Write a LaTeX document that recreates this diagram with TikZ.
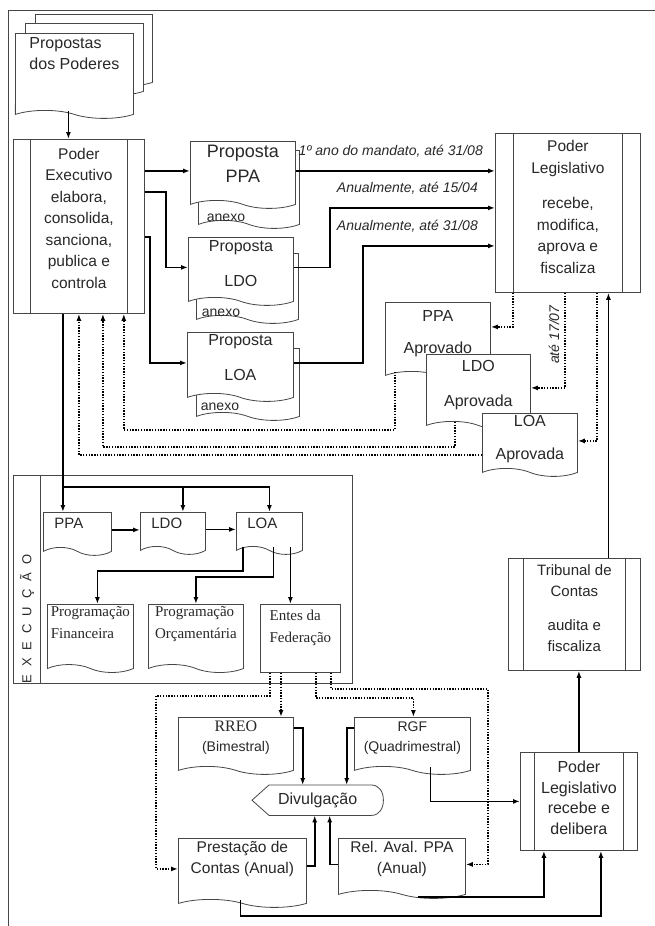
\documentclass[tikz,border=0pt]{standalone}
\usepackage{fontspec}
\setmainfont{Liberation Sans}
\newfontfamily\serifdoc{Liberation Serif}
\usetikzlibrary{arrows.meta,positioning,shapes.symbols,calc}
\definecolor{LineGray}{RGB}{70,70,70}
\definecolor{TextGray}{RGB}{40,40,40}
\tikzset{
  doc/.style={tape,tape bend top=none,tape bend bottom=out and in,
    tape bend height=8pt,draw=LineGray,fill=white,line width=0.8pt,
    anchor=north west,inner sep=2pt,align=center,text=TextGray},
  proc/.style={draw=LineGray,fill=white,line width=0.8pt,anchor=north west,
    align=center,text=TextGray,
    path picture={
      \draw[LineGray,line width=0.8pt]
        ([xshift=#1]path picture bounding box.north west) --
        ([xshift=#1]path picture bounding box.south west)
        ([xshift=-#1]path picture bounding box.north east) --
        ([xshift=-#1]path picture bounding box.south east);}},
  proc/.default=16pt,
  plain/.style={draw=LineGray,fill=white,line width=0.8pt,anchor=north west,
    text=TextGray},
  arrow/.style={-{Latex[length=7pt,width=5pt]},line width=1.7pt},
  dotarrow/.style={-{Latex[length=7pt,width=5pt]},line width=1.4pt,
    dash pattern=on 1.4pt off 1.4pt},
  note/.style={font=\itshape\fontsize{14}{16}\selectfont,text=TextGray},
  anexo/.style={font=\fontsize{14}{16}\selectfont,text=TextGray,inner sep=0pt}
}
\begin{document}
\begin{tikzpicture}[x=1pt,y=-1pt]
  \useasboundingbox (0,0) rectangle (655,926);
  \draw[LineGray,line width=0.8pt] (8,926) -- (8,10) -- (655,10);

  % propostas dos poderes
  \node[doc,minimum width=117pt,minimum height=72pt] (props3) at (35,14) {};
  \node[doc,minimum width=118pt,minimum height=72pt] (props2) at (25,23) {};
  \node[doc,minimum width=118pt,minimum height=85pt,text depth=36pt,align=left,
    font=\fontsize{16}{21}\selectfont] (props) at (15,33) {Propostas\\dos Poderes};

  \node[proc=17pt,minimum width=131pt,minimum height=174pt,text depth=17pt,
    font=\fontsize{15.5}{21.5}\selectfont] (exec) at (13,139)
    {Poder\\Executivo\\elabora,\\consolida,\\sanciona,\\publica e\\controla};

  % propostas com anexo
  \node[doc,minimum width=101pt,minimum height=78pt] (ppaAnx) at (198,150) {};
  \node[doc,minimum width=105pt,minimum height=67pt,text depth=14pt,
    font=\fontsize{18}{25}\selectfont] (ppa) at (190,141) {Proposta\\PPA};
  \node[anexo] (ppaAnxTxt) at (226,218) {anexo};

  \node[doc,minimum width=102pt,minimum height=70pt] (ldoAnx) at (196,253) {};
  \node[doc,minimum width=105pt,minimum height=68pt,text depth=7pt,
    font=\fontsize{16}{35}\selectfont] (ldo) at (188,237) {Proposta\\LDO};
  \node[anexo] (ldoAnxTxt) at (221,313) {anexo};

  \node[doc,minimum width=103pt,minimum height=72pt] (loaAnx) at (196,348) {};
  \node[doc,minimum width=106pt,minimum height=68pt,text depth=11pt,
    font=\fontsize{16}{35}\selectfont] (loa) at (187,332) {Proposta\\LOA};
  \node[anexo] (loaAnxTxt) at (220,407) {anexo};

  \node[proc=18pt,minimum width=145pt,minimum height=159pt,text depth=12pt,
    font=\fontsize{15.5}{21.5}\selectfont] (leg) at (495,133)
    {Poder\\Legislativo\\[14pt]recebe,\\modifica,\\aprova e\\fiscaliza};

  % aprovados
  \node[doc,minimum width=105pt,minimum height=77pt,text depth=9pt,
    font=\fontsize{16}{32}\selectfont] (ppaAp) at (385,302) {PPA\\Aprovado};
  \node[doc,minimum width=104pt,minimum height=75pt,text depth=8pt,
    font=\fontsize{16}{35}\selectfont] (ldoAp) at (426,354) {LDO\\Aprovada};
  \node[doc,minimum width=95pt,minimum height=63pt,text depth=6pt,
    font=\fontsize{16}{33}\selectfont] (loaAp) at (482,413) {LOA\\Aprovada};

  % execucao
  \node[plain,minimum width=339pt,minimum height=208pt,
    path picture={\draw[LineGray,line width=0.8pt]
      ([xshift=27pt]path picture bounding box.north west) --
      ([xshift=27pt]path picture bounding box.south west);}] (execucao) at (13,475) {};
  \node[rotate=90,text=TextGray,
    font=\fontsize{13}{15}\selectfont\addfontfeature{LetterSpace=62}] (execLabel)
    at (27,619) {EXECUÇÃO};

  \node[doc,minimum width=68pt,minimum height=43pt,text depth=13pt,align=left,
    text width=46pt,font=\fontsize{15}{18}\selectfont] (ePPA) at (43,512) {PPA};
  \node[doc,minimum width=65pt,minimum height=42pt,text depth=13pt,align=left,
    text width=43pt,font=\fontsize{15}{18}\selectfont] (eLDO) at (140,512) {LDO};
  \node[doc,minimum width=66pt,minimum height=42pt,text depth=13pt,align=left,
    text width=44pt,font=\fontsize{15}{18}\selectfont] (eLOA) at (236,512) {LOA};

  \node[doc,minimum width=86pt,minimum height=68pt,text depth=24pt,align=left,
    font=\serifdoc\fontsize{15}{22}\selectfont] (progFin) at (47,604)
    {Programação\\Financeira};
  \node[doc,minimum width=95pt,minimum height=68pt,text depth=24pt,align=left,
    font=\serifdoc\fontsize{15}{22}\selectfont] (progOrc) at (148,604)
    {Programação\\Orçamentária};
  \node[plain,minimum width=80pt,minimum height=68pt,text depth=24pt,align=left,
    font=\serifdoc\fontsize{15}{22}\selectfont] (entes) at (260,604)
    {Entes da\\Federação};

  % relatorios
  \node[doc,minimum width=115pt,minimum height=57pt,text depth=11pt,
    font=\fontsize{14}{20}\selectfont] (rreo) at (178,717)
    {{\serifdoc\fontsize{16}{20}\selectfont RREO}\\(Bimestral)};
  \node[doc,minimum width=116pt,minimum height=57pt,text depth=11pt,
    font=\fontsize{14}{20}\selectfont] (rgf) at (354,717) {RGF\\(Quadrimestral)};

  \node[minimum width=131pt,minimum height=30pt,anchor=north west,inner sep=0pt,
    text=TextGray,font=\fontsize{16}{18}\selectfont] (div) at (252,785) {Divulgação};
  \draw[LineGray,line width=0.8pt] (div.west) -- ([xshift=17pt]div.north west)
    -- ([xshift=-12pt]div.north east) .. controls +(8,0) and +(0,-8) .. (div.east)
    .. controls +(0,8) and +(8,0) .. ([xshift=-12pt]div.south east)
    -- ([xshift=17pt]div.south west) -- cycle;

  \node[doc,minimum width=128pt,minimum height=69pt,text depth=24pt,
    font=\fontsize{15.5}{21}\selectfont] (prest) at (178,838)
    {Prestação de\\Contas (Anual)};
  \node[doc,minimum width=127pt,minimum height=60pt,text depth=15pt,
    font=\fontsize{15.5}{21}\selectfont] (rel) at (338,838)
    {Rel. Aval. PPA\\(Anual)};

  \node[proc=14pt,minimum width=117pt,minimum height=98pt,text depth=7pt,
    font=\fontsize{16}{20.5}\selectfont] (leg2) at (520,752)
    {Poder\\Legislativo\\recebe e\\delibera};
  \node[proc=15pt,minimum width=132pt,minimum height=112pt,text depth=12pt,
    font=\fontsize{15}{21}\selectfont] (trib) at (508,558)
    {Tribunal de\\Contas\\[13pt]audita e\\fiscaliza};

  % conectores
  \draw[arrow] ([xshift=-6pt]props.south) -- ([xshift=-6pt]props.south |- exec.north);
  \draw[arrow] (ppa.west -| exec.east) -- (ppa.west);
  \draw[arrow] ([yshift=-53pt]exec.north east) -| ([xshift=-22pt]ldo.west) -- (ldo.west);
  \draw[arrow] ([yshift=-98pt]exec.north east) -| ([xshift=-37pt]loa.west) -- (loa.west);

  \draw[arrow] (ppa.east) -- (ppa.east -| leg.west)
    node[note,pos=1,anchor=south east,xshift=-8pt,yshift=9pt] (lblPPA)
    {1º ano do mandato, até 31/08};
  \draw[arrow] (ldo.east) -| ([yshift=5pt,xshift=-165pt]leg.west)
    -- ([yshift=5pt]leg.west)
    node[note,pos=1,anchor=south east,xshift=-13pt,yshift=9pt] (lblLDO)
    {Anualmente, até 15/04};
  \draw[arrow] (loa.east) -| ([yshift=-33pt,xshift=-132pt]leg.west)
    -- ([yshift=-33pt]leg.west)
    node[note,pos=1,anchor=south east,xshift=-13pt,yshift=9pt] (lblLOA)
    {Anualmente, até 31/08};

  \draw[dotarrow] ([xshift=18pt]leg.south west) |- ([yshift=10pt]ppaAp.east);
  \draw[dotarrow] ([xshift=70pt]leg.south west) |- (ldoAp.east)
    node[note,pos=0.22,rotate=90,anchor=south,inner sep=5pt] (lblPrazo) {até 17/07};
  \draw[dotarrow] ([xshift=102pt]leg.south west) |- (loaAp.east);
  \draw[arrow] ([xshift=34pt]trib.north) -- ([xshift=34pt]trib.north |- leg.south);

  \draw[dotarrow] ([xshift=10pt]ppaAp.south west) -- ++(0,58)
    -| ([xshift=-21pt]exec.south east);
  \draw[dotarrow] ([xshift=29pt]ldoAp.south west) -- ++(0,25)
    -| ([xshift=24pt]exec.south);
  \draw[dotarrow] ([yshift=-14pt]loaAp.west) -| (exec.south);

  \path ([xshift=-16pt]exec.south) |- ([yshift=25pt]ePPA.north) coordinate[pos=0.5] (split);
  \draw[arrow] ([xshift=-16pt]exec.south) -- (split) -- (split |- ePPA.north);
  \draw[arrow] (split) -| ([xshift=10pt]eLDO.north);
  \draw[arrow] (split) -| (eLOA.north);
  \draw[arrow] (ePPA.east) -- (ePPA.east -| eLDO.west);
  \draw[arrow] (eLDO.east) -- (eLDO.east -| eLOA.west);

  \draw[arrow] ([xshift=7pt]eLOA.south west) -- ++(0,24) -| ([xshift=7pt]progFin.north);
  \draw[arrow] ([xshift=4pt]eLOA.south) -- ++(0,30) -| (progOrc.north);
  \draw[arrow] ([xshift=21pt]eLOA.south) -- ([xshift=21pt]eLOA.south |- entes.north);

  \draw[dotarrow] ([xshift=10pt]entes.south west) -- ++(0,23)
    -| ([xshift=-22pt]prest.west) -- (prest.west);
  \draw[dotarrow] ([xshift=21pt]entes.south west)
    -- ([xshift=21pt]entes.south west |- rreo.north);
  \draw[dotarrow] ([xshift=56pt]entes.south west) -- ++(0,25) -| ([xshift=1pt]rgf.north);
  \draw[dotarrow] ([xshift=71pt]entes.south west) -- ++(0,16)
    -| ([xshift=22pt]rel.east) -- (rel.east);

  \draw[arrow] ([yshift=14pt]rreo.east) -| ([xshift=-15pt]div.north);
  \draw[arrow] ([yshift=14pt]rgf.west) -| ([xshift=29pt]div.north);
  \draw[arrow] ([yshift=3pt]prest.east) -| ([xshift=-3pt]div.south);
  \draw[arrow] (rel.west) -| ([xshift=12pt]div.south);

  \draw[arrow] ([xshift=18pt]rgf.south) |- (leg2.west);
  \draw[arrow] ([xshift=-2pt]prest.south) -- ++(0,16) -| ([xshift=22pt]leg2.south);
  \draw[arrow] ([xshift=16pt,yshift=-6pt]rel.south) -| ([xshift=-35pt]leg2.south);
  \draw[arrow] (leg2.north) -- (leg2.north |- trib.south);
\end{tikzpicture}
\end{document}
